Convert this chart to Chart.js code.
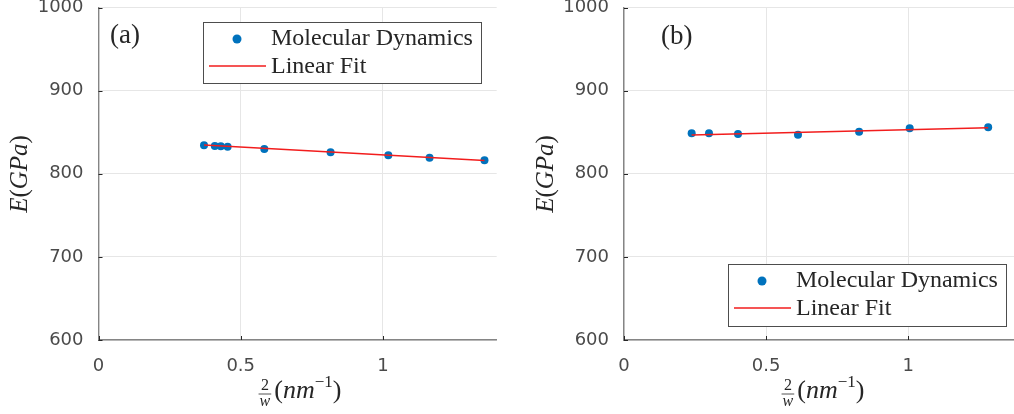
<!DOCTYPE html>
<html><head><meta charset="utf-8">
<script src="https://cdn.jsdelivr.net/npm/chart.js@4"></script>
<style>
html,body{margin:0;padding:0;background:#fff;overflow:hidden;width:1014px;height:414px;}
.w{position:absolute;top:0;width:520px;height:414px;}
#wa{left:0;}
#wb{left:520px;}
</style></head><body>
<div class="w" id="wa"><canvas id="ca"></canvas></div>
<div class="w" id="wb"><canvas id="cb"></canvas></div>
<script>
const xTicks = [0, 0.5, 1];
const yTicks = [600, 700, 800, 900, 1000];
const seriesNames = ['Molecular Dynamics', 'Linear Fit'];
const panelLabels = ['(a)', '(b)'];

const mdAx = [0.371, 0.409, 0.430, 0.454, 0.583, 0.816, 1.019, 1.164, 1.357];
const mdAy = [834.2, 833.4, 833.0, 832.5, 829.7, 825.8, 822.2, 819.3, 816.2];
const fitAx = [0.371, 1.357];
const fitAy = [834.5, 816.0];

const mdBx = [0.238, 0.299, 0.401, 0.612, 0.827, 1.005, 1.281];
const mdBy = [848.7, 848.7, 847.8, 847.0, 850.6, 854.7, 855.9];
const fitBx = [0.238, 1.281];
const fitBy = [846.6, 855.4];

const BLUE = '#0072BD';
const RED = '#f21d1d';
const SERIF = '"Liberation Serif", "DejaVu Serif", serif';

function pts(xs, ys) { return xs.map((x, i) => ({x: x, y: ys[i]})); }

function drawSegs(ctx, x, y, segs) {
  for (const s of segs) {
    ctx.font = s[1];
    ctx.fillText(s[0], x, y + (s[2] || 0));
    x += ctx.measureText(s[0]).width;
  }
}
function segsWidth(ctx, segs) {
  let w = 0;
  for (const s of segs) { ctx.font = s[1]; w += ctx.measureText(s[0]).width; }
  return w;
}

const decor = {
  id: 'decor',
  afterDraw(chart, args, o) {
    const ctx = chart.ctx;
    const ca = chart.chartArea;
    const xs = chart.scales.x, ys = chart.scales.y;
    ctx.save();
    ctx.strokeStyle = '#262626';
    ctx.lineWidth = 1;
    ctx.beginPath();
    for (const v of xTicks) {
      const px = Math.round(xs.getPixelForValue(v)) + 0.5;
      ctx.moveTo(px, ca.bottom); ctx.lineTo(px, ca.bottom - 4);
    }
    for (const v of yTicks) {
      const py = Math.round(ys.getPixelForValue(v)) + 0.5;
      ctx.moveTo(ca.left, py); ctx.lineTo(ca.left + 4, py);
    }
    ctx.stroke();

    ctx.fillStyle = '#262626';
    ctx.textBaseline = 'alphabetic';
    ctx.textAlign = 'left';
    ctx.font = '27px ' + SERIF;
    ctx.fillText(o.panel, o.panelX, o.panelY);

    ctx.save();
    ctx.translate(o.yTitleX, o.yTitleY);
    ctx.rotate(-Math.PI / 2);
    const yi = 'italic 25px ' + SERIF, yu = '25px ' + SERIF;
    const ySegs = [['E', yi], ['(', yu], ['GPa', yi], [')', yu]];
    const yw = segsWidth(ctx, ySegs);
    drawSegs(ctx, -yw / 2, 9, ySegs);
    ctx.restore();

    const it = 'italic 26px ' + SERIF, up = '26px ' + SERIF;
    const ff = '16px ' + SERIF, ffi = 'italic 16px ' + SERIF;
    ctx.font = ff; const w2 = ctx.measureText('2').width;
    ctx.font = ffi; const ww = ctx.measureText('w').width;
    const fw = Math.max(w2, ww) + 2;
    const rest = [['(', up], ['nm', it], ['\u22121', '17px ' + SERIF, -11], [')', up]];
    const rw = segsWidth(ctx, rest);
    const total = fw + 3 + rw;
    let sx = o.xTitleX - total / 2;
    const base = o.xTitleY;
    ctx.font = ff; ctx.fillText('2', sx + (fw - w2) / 2, base - 8);
    ctx.font = ffi; ctx.fillText('w', sx + (fw - ww) / 2, base + 8);
    ctx.strokeStyle = '#262626'; ctx.lineWidth = 0.8;
    ctx.beginPath(); ctx.moveTo(sx, base - 4); ctx.lineTo(sx + fw, base - 4); ctx.stroke();
    drawSegs(ctx, sx + fw + 3, base, rest);

    const L = o.legend;
    ctx.fillStyle = '#ffffff';
    ctx.fillRect(L.x, L.y, L.w, L.h);
    ctx.strokeStyle = '#4d4d4d'; ctx.lineWidth = 1;
    ctx.strokeRect(L.x + 0.5, L.y + 0.5, L.w, L.h);
    ctx.fillStyle = BLUE;
    ctx.beginPath(); ctx.arc(L.x + 34, L.y + 17, 4.5, 0, Math.PI * 2); ctx.fill();
    ctx.strokeStyle = RED; ctx.lineWidth = 1.5;
    ctx.beginPath(); ctx.moveTo(L.x + 6, L.y + 44); ctx.lineTo(L.x + 63, L.y + 44); ctx.stroke();
    ctx.fillStyle = '#262626';
    ctx.font = '24px ' + SERIF;
    ctx.fillText(seriesNames[0], L.x + 68, L.y + 22.5);
    ctx.fillText(seriesNames[1], L.x + 68, L.y + 50.5);
    ctx.restore();
  }
};

function makeChart(id, mx, my, fx, fy, yW, o) {
  new Chart(document.getElementById(id), {
    type: 'scatter',
    data: {
      datasets: [
        {label: seriesNames[0], data: pts(mx, my), showLine: false, pointRadius: 4,
         pointHoverRadius: 4, backgroundColor: BLUE, borderColor: BLUE, borderWidth: 0, order: 1},
        {label: seriesNames[1], data: pts(fx, fy), showLine: true, pointRadius: 0,
         borderColor: RED, borderWidth: 1.5, order: 0}
      ]
    },
    options: {
      responsive: true, maintainAspectRatio: false, animation: false,
      layout: {padding: {left: 0, top: 7.5, right: o.padR, bottom: 0}},
      plugins: {legend: {display: false}, tooltip: {enabled: false}, decor: o},
      scales: {
        x: {
          type: 'linear', min: 0, max: 1.4,
          afterBuildTicks: s => { s.ticks = xTicks.map(v => ({value: v})); },
          afterFit: s => { s.height = 74; s.paddingLeft = 0; s.paddingRight = 0; },
          grid: {color: '#e6e6e6', lineWidth: 1, drawTicks: false},
          border: {display: true, color: '#858585', width: 1.4},
          ticks: {padding: 16, color: '#4a4a4a', font: {family: '"DejaVu Sans"', size: 18},
                  callback: v => String(v), maxRotation: 0}
        },
        y: {
          type: 'linear', min: 600, max: 1000,
          afterBuildTicks: s => { s.ticks = yTicks.map(v => ({value: v})); },
          afterFit: s => { s.width = yW; s.paddingTop = 0; s.paddingBottom = 0; },
          grid: {color: '#e6e6e6', lineWidth: 1, drawTicks: false},
          border: {display: true, color: '#858585', width: 1.4},
          ticks: {padding: 15, color: '#4a4a4a', font: {family: '"DejaVu Sans"', size: 18},
                  callback: v => String(v)}
        }
      }
    },
    plugins: [decor]
  });
}

makeChart('ca', mdAx, mdAy, fitAx, fitAy, 98.5, {
  padR: 23.3, panel: panelLabels[0], panelX: 110, panelY: 43,
  yTitleX: 18, yTitleY: 174, xTitleX: 300, xTitleY: 398,
  legend: {x: 203, y: 22, w: 278, h: 61}
});
makeChart('cb', mdBx, mdBy, fitBx, fitBy, 104, {
  padR: 18, panel: panelLabels[1], panelX: 141, panelY: 44,
  yTitleX: 24, yTitleY: 174, xTitleX: 303, xTitleY: 398,
  legend: {x: 208, y: 264, w: 278, h: 62}
});
</script>
</body></html>
